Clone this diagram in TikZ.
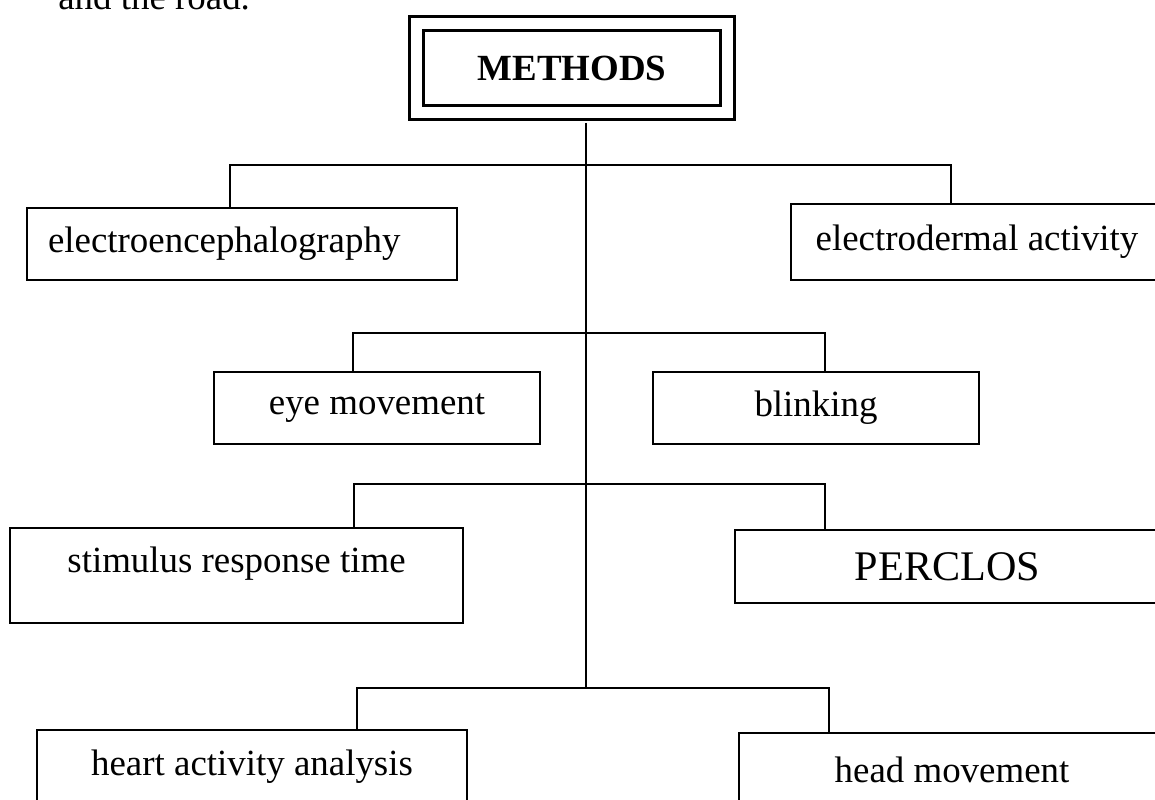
\documentclass[tikz,border=0pt]{standalone}
\usepackage{fontspec}
\setmainfont{Liberation Serif}
\usetikzlibrary{positioning}
\tikzset{
  methodbox/.style={draw=black,double,line width=1.9pt,double distance=6.3pt,minimum width=6.22cm,minimum height=1.78cm,inner sep=0pt,font=\fontsize{21}{25}\selectfont\bfseries},
  leafbox/.style={draw=black,line width=1.1pt,inner sep=0pt,font=\fontsize{21}{25}\selectfont},
  branchline/.style={line width=1.5pt,draw=black}
}

\begin{document}
\begin{tikzpicture}[x=0.02cm,y=-0.02cm]
  \clip (0,0) rectangle (1155,800);
  \fill[white] (0,0) rectangle (1155,800);
  \node[anchor=base west,inner sep=0pt,font=\fontsize{21}{25}\selectfont] (intro) at (58,10) {and the road.};
  \node[methodbox] (methods) at (572,68) {METHODS};
  % leaves, top to bottom
  \node[leafbox,minimum width=8.6cm,minimum height=1.44cm,text width=7.76cm,inner xsep=0.42cm,align=left] (eeg) at (242,244) {electroencephalography};
  \node[leafbox,minimum width=7.44cm,minimum height=1.52cm] (eda) at (977,242) {electrodermal activity};
  \node[leafbox,minimum width=6.52cm,minimum height=1.44cm] (eye) at (377,408) {eye movement};
  \node[leafbox,minimum width=6.52cm,minimum height=1.44cm] (blink) at (816,408) {blinking};
  \node[leafbox,minimum width=9.06cm,minimum height=1.9cm,text height=14pt,text depth=17pt] (stim) at (236.5,575.5) {stimulus response time};
  \node[leafbox,minimum width=8.5cm,minimum height=1.46cm,font=\fontsize{24}{28}\selectfont] (perclos) at (947.5,566.5) {PERCLOS};
  \node[leafbox,minimum width=8.6cm,minimum height=1.48cm] (heart) at (252,767) {heart activity analysis};
  \node[leafbox,minimum width=8.52cm,minimum height=1.48cm] (head) at (952,770) {head movement};
  % branch points
  \coordinate (spine) at (586,688);
  \coordinate (r1l) at (230,165);
  \coordinate (r1r) at (951,165);
  \coordinate (r2l) at (353,333);
  \coordinate (r2r) at (825,333);
  \coordinate (r3l) at (354,484);
  \coordinate (r3r) at (825,484);
  \coordinate (r4l) at (357,688);
  \coordinate (r4r) at (829,688);
  \draw[branchline,shorten <=5pt] (methods.south -| spine) -- (spine);
  \draw[branchline] (r1l |- eeg.north) -- (r1l) -- (r1r) -- (r1r |- eda.north);
  \draw[branchline] (r2l |- eye.north) -- (r2l) -- (r2r) -- (r2r |- blink.north);
  \draw[branchline] (r3l |- stim.north) -- (r3l) -- (r3r) -- (r3r |- perclos.north);
  \draw[branchline] (r4l |- heart.north) -- (r4l) -- (r4r) -- (r4r |- head.north);
\end{tikzpicture}
\end{document}
